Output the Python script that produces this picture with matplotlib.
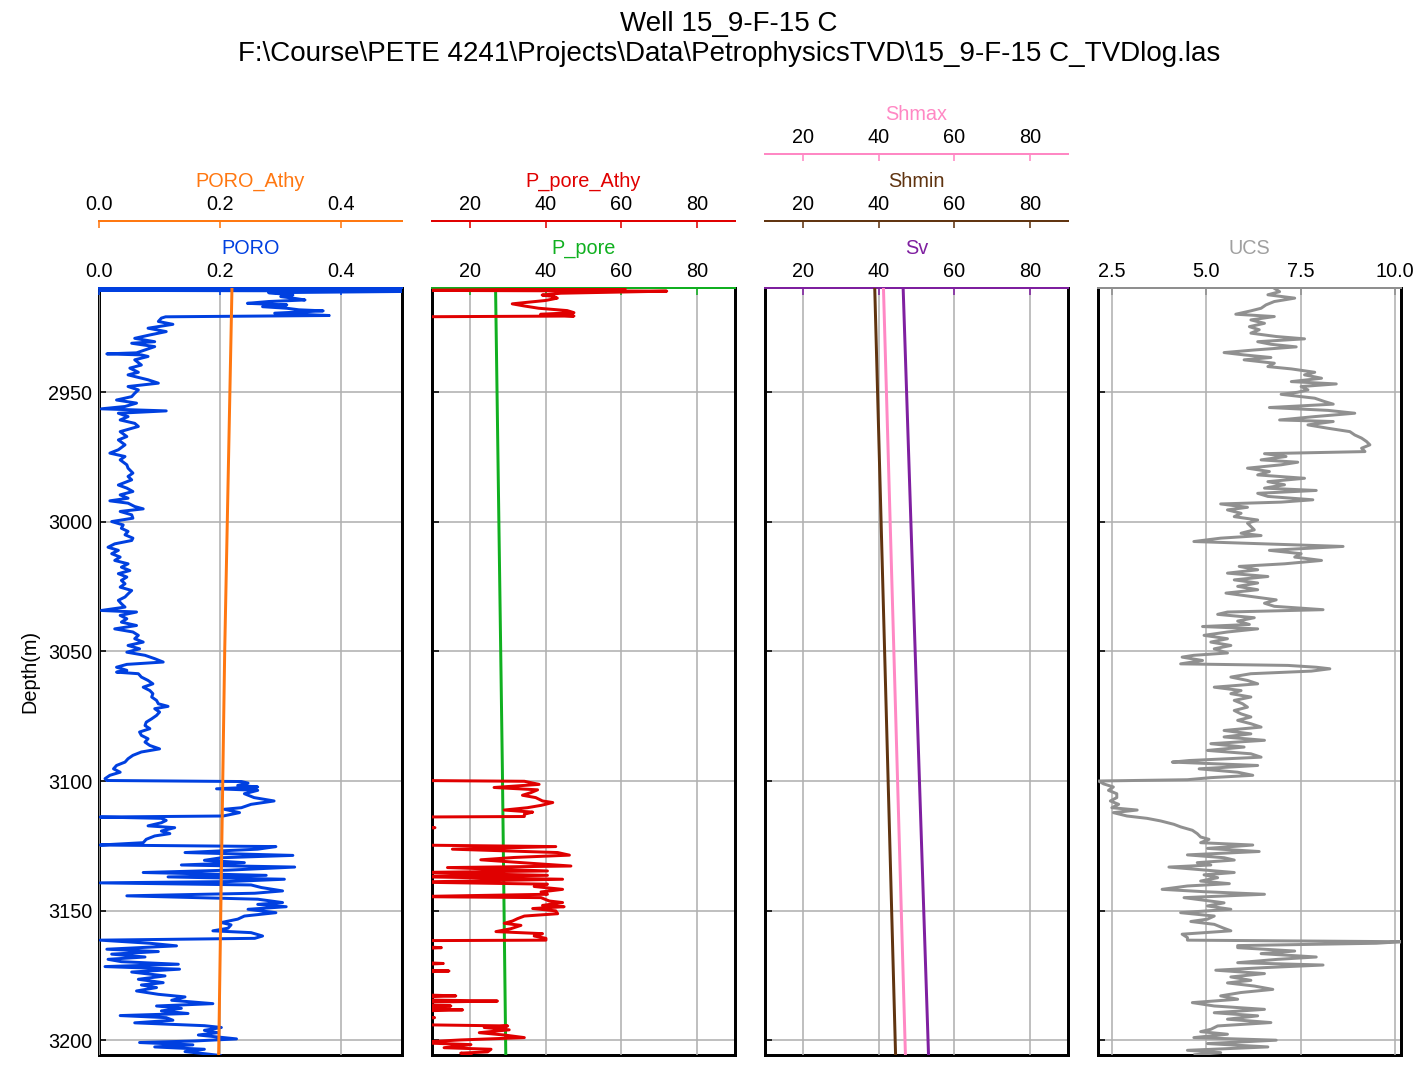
import matplotlib
matplotlib.use('Agg')
from matplotlib import pyplot as plt

plt.rcParams['font.family'] = ['Liberation Sans', 'DejaVu Sans']
plt.rcParams['font.size'] = 10

title = "Well 15_9-F-15 C\n" + r"F:\Course\PETE 4241\Projects\Data\PetrophysicsTVD\15_9-F-15 C_TVDlog.las"

# ---- PORO ----
poro_depth = [2909.8, 2910.1, 2910.7, 2911.0, 2911.6, 2912.5, 2913.1, 2913.7, 2914.4, 2915.0,
              2915.7, 2916.3, 2917.0, 2917.6, 2918.2, 2918.6, 2919.5, 2920.4, 2920.9, 2921.4,
              2922.7, 2923.8, 2925.3, 2926.6, 2927.9, 2929.2, 2930.5, 2931.1, 2932.4, 2933.7,
              2934.8, 2935.2, 2935.6, 2936.2, 2937.5, 2939.5, 2940.7, 2942.3, 2943.3, 2945.2,
              2946.5, 2947.8, 2949.1, 2950.4, 2951.7, 2953.0, 2954.2, 2955.5, 2956.4, 2957.2,
              2958.1, 2959.4, 2960.7, 2962.0, 2963.2, 2965.2, 2967.1, 2968.4, 2970.3, 2972.2,
              2973.5, 2974.8, 2976.1, 2978.0, 2979.3, 2981.2, 2982.5, 2983.8, 2985.8, 2987.0,
              2988.3, 2989.6, 2990.9, 2991.9, 2992.8, 2994.1, 2995.0, 2996.0, 2997.3, 2998.6,
              2999.9, 3001.2, 3002.5, 3003.7, 3005.0, 3006.3, 3007.2, 3008.5, 3009.8, 3011.0,
              3012.3, 3013.6, 3014.9, 3016.2, 3017.5, 3018.8, 3020.0, 3021.3, 3022.6, 3023.9,
              3025.2, 3026.5, 3027.8, 3029.0, 3030.3, 3031.6, 3032.9, 3034.2, 3034.8, 3036.1,
              3037.4, 3038.7, 3040.0, 3041.3, 3042.5, 3043.8, 3045.1, 3046.4, 3047.7, 3049.0,
              3050.3, 3051.5, 3052.8, 3054.1, 3055.0, 3056.1, 3057.3, 3058.0, 3058.6, 3059.9,
              3061.2, 3062.5, 3063.8, 3065.1, 3066.3, 3067.6, 3068.9, 3070.2, 3071.2, 3072.1,
              3073.4, 3074.7, 3076.0, 3077.3, 3078.6, 3079.8, 3081.1, 3082.4, 3083.7, 3085.0,
              3086.3, 3087.6, 3088.8, 3090.1, 3091.4, 3092.7, 3094.0, 3095.3, 3096.6, 3097.8,
              3099.1, 3099.8, 3100.2, 3100.8, 3101.7, 3102.3, 3103.0, 3103.6, 3104.9, 3106.4,
              3107.7, 3109.0, 3110.3, 3110.9, 3112.2, 3113.5, 3113.9, 3114.4, 3115.2, 3116.1,
              3117.3, 3118.0, 3119.3, 3120.3, 3121.2, 3122.5, 3123.8, 3124.7, 3125.3, 3126.3,
              3127.6, 3128.7, 3129.6, 3130.6, 3131.5, 3132.4, 3133.2, 3134.4, 3135.3, 3136.4,
              3137.0, 3137.9, 3138.8, 3139.3, 3140.1, 3141.1, 3142.4, 3143.3, 3144.3, 3145.6,
              3146.9, 3147.6, 3148.5, 3149.5, 3150.8, 3152.1, 3153.3, 3154.6, 3155.5, 3156.8,
              3157.8, 3158.5, 3159.8, 3160.7, 3161.4, 3162.6, 3163.6, 3164.9, 3165.8, 3166.8,
              3167.9, 3168.8, 3169.7, 3170.7, 3171.6, 3172.6, 3173.7, 3175.2, 3176.5, 3177.8,
              3178.7, 3179.7, 3181.0, 3182.3, 3183.3, 3184.6, 3185.9, 3186.8, 3187.7, 3188.7,
              3189.7, 3190.5, 3191.3, 3192.3, 3193.3, 3194.4, 3195.1, 3196.2, 3197.1, 3198.0,
              3199.5, 3200.3, 3200.9, 3201.8, 3202.6, 3203.5, 3204.4, 3205.2, 3205.9]
poro = [0.56, 0.42, 0.0, 0.56, 0.28, 0.32, 0.30, 0.32, 0.34, 0.28,
        0.245, 0.31, 0.27, 0.31, 0.33, 0.37, 0.29, 0.38, 0.11, 0.103,
        0.098, 0.122, 0.081, 0.111, 0.084, 0.059, 0.092, 0.054, 0.092, 0.076,
        0.062, 0.013, 0.070, 0.081, 0.059, 0.070, 0.051, 0.065, 0.048, 0.081,
        0.098, 0.048, 0.065, 0.059, 0.054, 0.029, 0.062, 0.043, 0.004, 0.111,
        0.032, 0.048, 0.035, 0.059, 0.065, 0.035, 0.046, 0.032, 0.043, 0.032,
        0.018, 0.043, 0.035, 0.046, 0.048, 0.056, 0.048, 0.054, 0.032, 0.046,
        0.056, 0.035, 0.048, 0.018, 0.048, 0.059, 0.073, 0.035, 0.054, 0.056,
        0.021, 0.040, 0.037, 0.048, 0.043, 0.056, 0.054, 0.026, 0.015, 0.032,
        0.021, 0.035, 0.026, 0.048, 0.037, 0.051, 0.032, 0.046, 0.037, 0.043,
        0.035, 0.054, 0.048, 0.043, 0.032, 0.037, 0.043, 0.004, 0.062, 0.035,
        0.046, 0.037, 0.062, 0.026, 0.056, 0.065, 0.059, 0.073, 0.048, 0.067,
        0.046, 0.076, 0.092, 0.106, 0.046, 0.029, 0.046, 0.029, 0.065, 0.070,
        0.081, 0.089, 0.073, 0.084, 0.089, 0.087, 0.095, 0.098, 0.114, 0.092,
        0.100, 0.095, 0.087, 0.078, 0.076, 0.084, 0.067, 0.070, 0.081, 0.076,
        0.084, 0.100, 0.070, 0.056, 0.048, 0.043, 0.029, 0.024, 0.035, 0.018,
        0.010, 0.013, 0.235, 0.246, 0.229, 0.262, 0.194, 0.262, 0.240, 0.256,
        0.289, 0.251, 0.235, 0.207, 0.232, 0.205, 0.002, 0.103, 0.111, 0.103,
        0.081, 0.125, 0.103, 0.117, 0.092, 0.078, 0.073, 0.002, 0.292, 0.262,
        0.142, 0.320, 0.202, 0.174, 0.240, 0.136, 0.323, 0.213, 0.073, 0.276,
        0.114, 0.306, 0.213, 0.002, 0.251, 0.268, 0.303, 0.257, 0.046, 0.262,
        0.303, 0.262, 0.309, 0.246, 0.292, 0.240, 0.229, 0.202, 0.218, 0.213,
        0.188, 0.251, 0.270, 0.257, 0.002, 0.084, 0.128, 0.013, 0.098, 0.021,
        0.076, 0.015, 0.037, 0.131, 0.010, 0.133, 0.054, 0.109, 0.065, 0.106,
        0.070, 0.095, 0.062, 0.098, 0.142, 0.120, 0.188, 0.095, 0.136, 0.103,
        0.147, 0.035, 0.111, 0.122, 0.059, 0.174, 0.202, 0.174, 0.196, 0.164,
        0.227, 0.158, 0.067, 0.155, 0.092, 0.174, 0.142, 0.174, 0.200]

poro_athy_depth = [2909.8, 3050.0, 3205.7]
poro_athy = [0.2195, 0.2075, 0.1975]

# ---- pore pressure ----
pp_depth = [2909.8, 3095.5, 3205.7]
pp = [26.8, 28.6, 29.5]

ppa_depth = [2909.8, 2910.1, 2910.7, 2911.0, 2911.8, 2912.5, 2913.1, 2913.7, 2914.6, 2915.3,
             2915.9, 2916.7, 2917.6, 2918.5, 2919.3, 2919.9, 2920.6, 2920.9, 3099.8, 3100.1,
             3101.3, 3102.5, 3103.4, 3104.5, 3105.5, 3106.4, 3107.7, 3108.3, 3109.4, 3110.3,
             3111.2, 3112.0, 3112.8, 3113.7, 3113.9, 3117.5, 3118.0, 3118.5, 3124.7, 3125.3,
             3126.3, 3127.6, 3128.6, 3129.5, 3130.4, 3131.7, 3132.8, 3133.4, 3134.7, 3135.3,
             3136.4, 3136.9, 3137.9, 3139.0, 3139.8, 3140.7, 3141.8, 3142.8, 3143.7, 3144.6,
             3145.0, 3146.3, 3146.9, 3148.0, 3148.5, 3149.2, 3150.1, 3151.2, 3152.1, 3153.1,
             3154.0, 3154.9, 3155.7, 3157.0, 3158.1, 3158.9, 3159.8, 3160.7, 3161.4, 3161.6,
             3163.8, 3164.3, 3164.8, 3169.9, 3170.4, 3170.9, 3172.8, 3173.3, 3173.8, 3182.4,
             3182.9, 3183.4, 3184.4, 3184.9, 3185.4, 3186.3, 3186.8, 3187.3, 3187.8, 3188.3,
             3188.8, 3190.8, 3191.3, 3191.8, 3194.0, 3194.5, 3195.1, 3196.0, 3197.1, 3198.0,
             3199.0, 3199.9, 3200.9, 3201.7, 3202.9, 3203.5, 3204.5, 3205.0, 3205.7]
ppa = [61.0, 51.0, 5.0, 72.0, 44.0, 39.1, 42.2, 43.1, 40.0, 35.2,
       31.2, 34.3, 38.2, 45.7, 47.5, 38.7, 47.5, 5.0, 5.0, 34.4,
       38.3, 26.4, 37.9, 36.1, 33.9, 37.4, 39.2, 41.9, 38.8, 35.2,
       29.1, 36.6, 34.4, 34.4, 5.0, 5.0, 10.8, 5.0, 5.0, 42.7,
       15.4, 43.2, 46.3, 31.7, 22.9, 35.7, 46.7, 14.1, 40.5, 5.0,
       40.5, 5.0, 44.5, 5.0, 40.5, 37.0, 44.5, 38.8, 40.5, 5.0,
       38.8, 41.0, 44.5, 39.2, 44.9, 36.6, 42.7, 43.2, 34.4, 32.6,
       31.3, 29.1, 33.5, 30.8, 26.9, 39.2, 37.0, 40.1, 40.1, 5.0,
       5.0, 12.5, 5.0, 5.0, 13.0, 5.0, 5.0, 14.5, 5.0, 5.0,
       16.3, 5.0, 5.0, 27.3, 5.0, 5.0, 15.0, 5.0, 5.0, 18.1,
       5.0, 5.0, 10.7, 5.0, 5.0, 30.0, 23.8, 30.4, 22.5, 29.1,
       34.4, 17.6, 5.0, 20.3, 13.2, 25.6, 24.7, 17.6, 20.3]

# ---- stresses ----
stress_depth = [2909.8, 3205.7]
sv = [46.5, 53.2]
shmin = [39.0, 44.5]
shmax = [41.3, 47.1]

# ---- UCS ----
ucs_depth = [2909.9, 2911.2, 2912.4, 2913.7, 2915.0, 2916.3, 2917.6, 2918.6, 2919.9, 2920.8,
             2922.1, 2923.4, 2924.7, 2925.9, 2927.2, 2928.5, 2929.4, 2930.5, 2931.5, 2932.5,
             2933.7, 2934.7, 2935.6, 2936.6, 2937.5, 2938.8, 2940.1, 2941.0, 2942.3, 2943.3,
             2944.6, 2945.9, 2946.8, 2947.8, 2949.1, 2950.0, 2950.8, 2952.3, 2953.6, 2954.6,
             2955.9, 2957.0, 2958.1, 2959.4, 2960.7, 2961.3, 2962.6, 2963.9, 2965.2, 2966.5,
             2967.7, 2969.0, 2970.3, 2971.6, 2972.9, 2973.7, 2974.8, 2976.1, 2977.0, 2978.0,
             2979.3, 2980.6, 2981.9, 2983.2, 2984.5, 2985.7, 2987.0, 2987.9, 2989.0, 2990.2,
             2991.5, 2992.4, 2993.1, 2994.4, 2995.4, 2996.7, 2998.0, 2999.3, 3000.5, 3001.8,
             3003.1, 3004.4, 3005.3, 3006.3, 3007.6, 3009.5, 3011.0, 3012.3, 3013.6, 3014.9,
             3016.2, 3017.2, 3018.5, 3019.8, 3021.1, 3022.4, 3023.6, 3024.9, 3026.2, 3027.5,
             3028.8, 3030.1, 3031.4, 3032.6, 3033.9, 3034.8, 3035.7, 3037.0, 3038.3, 3039.6,
             3040.4, 3041.3, 3042.5, 3043.8, 3045.1, 3046.4, 3047.7, 3049.0, 3050.6, 3051.5,
             3052.2, 3053.5, 3054.8, 3055.4, 3056.1, 3056.7, 3057.6, 3058.6, 3059.9, 3061.2,
             3062.5, 3063.8, 3065.1, 3066.3, 3067.6, 3068.9, 3070.2, 3071.5, 3072.8, 3074.1,
             3075.3, 3076.6, 3077.9, 3079.2, 3080.5, 3081.8, 3083.0, 3084.3, 3085.6, 3086.9,
             3088.2, 3089.5, 3090.8, 3092.1, 3092.7, 3094.0, 3095.3, 3096.6, 3097.8, 3098.7,
             3099.5, 3100.0, 3101.1, 3102.3, 3103.6, 3104.9, 3106.4, 3107.7, 3109.0, 3110.3,
             3111.2, 3112.2, 3113.5, 3114.4, 3115.4, 3116.7, 3117.7, 3119.0, 3120.3, 3121.6,
             3122.5, 3123.8, 3124.7, 3126.0, 3127.2, 3128.5, 3129.6, 3130.5, 3131.5, 3132.4,
             3133.2, 3134.1, 3135.3, 3136.2, 3137.3, 3138.6, 3139.6, 3140.5, 3141.8, 3142.7,
             3143.7, 3145.0, 3146.0, 3147.0, 3148.2, 3149.5, 3150.8, 3152.1, 3153.3, 3154.2,
             3155.3, 3156.6, 3157.8, 3159.1, 3160.4, 3161.4, 3162.0, 3162.6, 3163.5, 3164.3,
             3165.6, 3166.6, 3167.9, 3168.8, 3170.1, 3171.0, 3172.0, 3173.0, 3174.3, 3175.6,
             3176.9, 3177.9, 3179.1, 3180.4, 3181.6, 3182.9, 3184.2, 3185.5, 3186.8, 3188.1,
             3189.4, 3190.6, 3191.9, 3193.2, 3194.5, 3195.8, 3196.7, 3197.7, 3199.0, 3200.0,
             3201.3, 3202.6, 3203.9, 3204.8, 3205.6]
ucs = [6.80, 6.94, 6.63, 7.34, 6.80, 6.58, 6.45, 6.18, 5.78, 6.80,
       6.18, 6.54, 6.14, 6.40, 6.18, 6.85, 7.60, 6.36, 6.71, 7.38,
       6.27, 5.47, 6.00, 6.71, 6.00, 6.80, 6.63, 7.25, 7.87, 7.60,
       8.05, 7.25, 8.44, 7.51, 7.69, 7.42, 6.98, 7.87, 8.13, 8.36,
       6.67, 8.22, 8.93, 7.87, 6.94, 8.36, 7.69, 8.22, 8.80, 8.93,
       9.11, 9.24, 9.33, 9.11, 9.20, 6.54, 7.11, 6.45, 7.42, 6.98,
       6.09, 6.67, 6.36, 7.60, 6.63, 7.07, 6.54, 7.91, 6.36, 6.63,
       7.82, 6.98, 5.38, 6.09, 5.56, 5.92, 5.74, 6.36, 6.09, 6.18,
       6.27, 5.92, 6.45, 5.38, 4.67, 8.62, 6.67, 7.51, 7.34, 8.05,
       7.07, 5.87, 6.36, 5.56, 6.63, 5.74, 6.36, 5.83, 6.36, 5.52,
       6.18, 6.85, 6.54, 6.80, 8.09, 5.56, 5.30, 6.27, 5.83, 6.14,
       4.90, 6.36, 5.56, 4.94, 5.56, 5.12, 5.65, 5.21, 5.56, 4.67,
       4.36, 4.90, 4.32, 7.16, 7.91, 8.27, 7.78, 6.18, 5.65, 6.09,
       6.36, 5.21, 5.92, 5.65, 6.18, 5.74, 5.96, 6.09, 5.74, 5.92,
       6.18, 5.83, 6.18, 6.45, 5.47, 6.18, 5.47, 6.54, 5.12, 6.00,
       5.03, 6.18, 6.45, 4.54, 4.10, 6.36, 4.81, 5.83, 6.23, 5.12,
       4.50, 2.15, 2.28, 2.54, 2.41, 2.63, 2.63, 2.46, 2.68, 2.50,
       3.17, 2.54, 2.90, 3.43, 3.79, 4.14, 4.32, 4.63, 4.76, 4.85,
       5.07, 4.85, 6.23, 5.03, 6.40, 4.50, 5.47, 5.74, 4.76, 5.12,
       4.01, 4.76, 5.74, 4.94, 5.30, 4.85, 5.61, 4.50, 3.83, 4.94,
       6.54, 4.41, 4.94, 5.47, 5.03, 5.65, 4.32, 5.21, 5.03, 4.59,
       5.21, 5.43, 5.65, 4.36, 4.50, 4.50, 10.16, 9.50, 5.83, 5.83,
       7.34, 6.45, 7.91, 6.89, 5.83, 8.09, 6.54, 5.25, 6.54, 5.65,
       6.18, 5.56, 6.27, 6.76, 5.92, 5.38, 5.83, 4.63, 5.21, 6.54,
       5.21, 6.36, 5.56, 6.71, 5.30, 5.12, 4.85, 5.56, 4.67, 6.85,
       5.03, 6.63, 4.50, 5.38, 4.70]

depth_ticks = [2950, 3000, 3050, 3100, 3150, 3200]
top_depth, bottom_depth = 2909.8, 3205.7

fig, axes = plt.subplots(1, 4, figsize=(10, 7.479), dpi=142.8, sharey=True)
fig.subplots_adjust(left=0.0693, right=0.981, top=0.7303, bottom=0.0122, wspace=0.099)


def add_curve(ax, depth, vals, name, color, lim, ticks, n, labelcolor=None):
    t = ax.twiny()
    t.plot(vals, depth, color=color, lw=1.5)
    t.set_xlim(lim)
    t.set_xticks(ticks)
    t.xaxis.set_ticks_position('top')
    t.xaxis.set_label_position('top')
    t.spines['top'].set_position(('outward', 33.8 * n))
    t.spines['top'].set_color(color)
    t.spines['top'].set_linewidth(1.0)
    for s in ['left', 'right', 'bottom']:
        t.spines[s].set_visible(False)
    t.tick_params(axis='x', direction='in', color=color)
    t.set_xlabel(name, color=labelcolor or color)
    if n == 0:
        t.grid(True, axis='x', color='#b0b0b0')
    return t


for ax in axes:
    ax.set_ylim(bottom_depth, top_depth)
    ax.set_yticks(depth_ticks)
    ax.set_xticks([])
    ax.grid(True, axis='y', color='#b0b0b0')
    ax.tick_params(axis='y', direction='in')
    for s in ['left', 'right', 'bottom']:
        ax.spines[s].set_linewidth(1.5)

axes[0].set_ylabel('Depth(m)')
for ax in axes[1:]:
    ax.tick_params(labelleft=False)

# track 1
add_curve(axes[0], poro_depth, poro, 'PORO', '#0040e0', (0, 0.5), [0.0, 0.2, 0.4], 0)
add_curve(axes[0], poro_athy_depth, poro_athy, 'PORO_Athy', '#ff7710', (0, 0.5), [0.0, 0.2, 0.4], 1)

# track 2
add_curve(axes[1], pp_depth, pp, 'P_pore', '#10b020', (10, 90), [20, 40, 60, 80], 0)
add_curve(axes[1], ppa_depth, ppa, 'P_pore_Athy', '#e00000', (10, 90), [20, 40, 60, 80], 1)

# track 3
add_curve(axes[2], stress_depth, sv, 'Sv', '#7f1fa0', (10, 90), [20, 40, 60, 80], 0)
add_curve(axes[2], stress_depth, shmin, 'Shmin', '#603410', (10, 90), [20, 40, 60, 80], 1)
add_curve(axes[2], stress_depth, shmax, 'Shmax', '#ff88c4', (10, 90), [20, 40, 60, 80], 2)

# track 4
add_curve(axes[3], ucs_depth, ucs, 'UCS', '#909090', (2.13, 10.15), [2.5, 5.0, 7.5, 10.0], 0,
          labelcolor='#a0a0a0')

fig.suptitle(title, x=0.5105, y=0.99, fontsize=14)

fig.savefig('out.png', dpi=142.8)
